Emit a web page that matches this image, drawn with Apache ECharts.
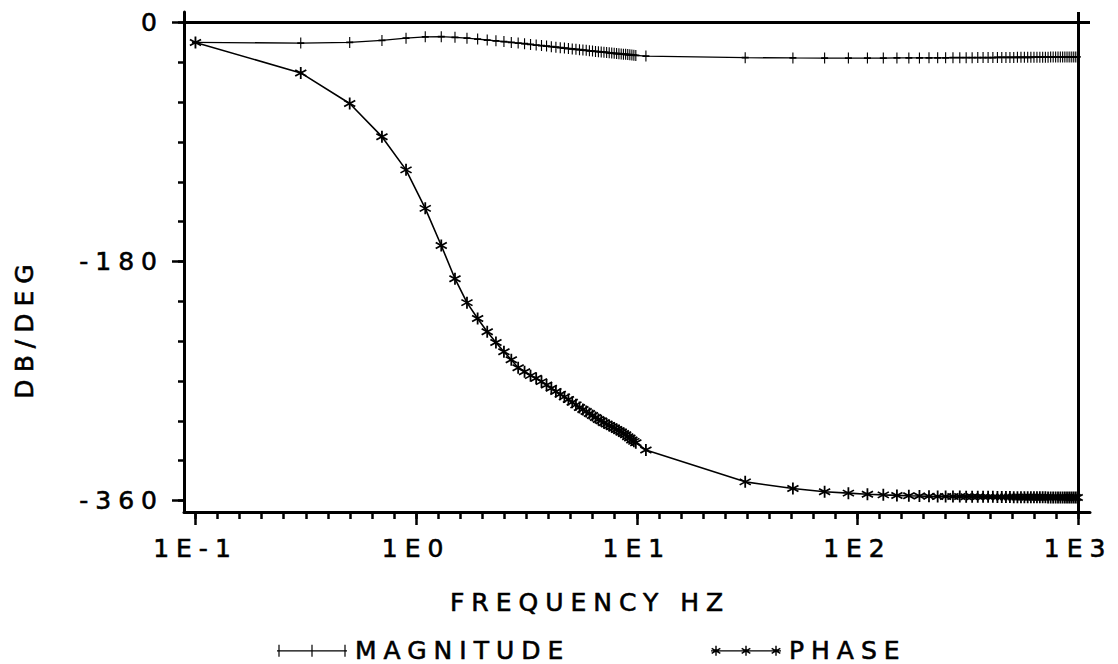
<!DOCTYPE html>
<html>
<head>
<meta charset="utf-8">
<script src="https://cdn.jsdelivr.net/npm/echarts@6/dist/echarts.min.js"></script>
<style>
  html, body { margin: 0; padding: 0; background: #fff; }
  #chart { width: 1118px; height: 664px; }
  /* plotter lettering is widely spaced */
  #chart text { letter-spacing: 7px; }
</style>
</head>
<body>
<div id="chart"></div>
<script>
// sweep frequencies (Hz)
const freqs = [
  0.1, 0.3, 0.5, 0.7, 0.9, 1.1, 1.3, 1.5, 1.7, 1.9,
  2.1, 2.3, 2.5, 2.7, 2.9, 3.1, 3.3, 3.5, 3.7, 3.9,
  4.1, 4.3, 4.5, 4.7, 4.9, 5.1, 5.3, 5.5, 5.7, 5.9,
  6.1, 6.3, 6.5, 6.7, 6.9, 7.1, 7.3, 7.5, 7.7, 7.9,
  8.1, 8.3, 8.5, 8.7, 8.9, 9.1, 9.3, 9.5, 9.7, 9.9,
  11, 31, 51, 71, 91, 111, 131, 151, 171, 191,
  211, 231, 251, 271, 291, 311, 331, 351, 371, 391,
  411, 431, 451, 471, 491, 511, 531, 551, 571, 591,
  611, 631, 651, 671, 691, 711, 731, 751, 771, 791,
  811, 831, 851, 871, 891, 911, 931, 951, 971, 991
]

// magnitude, dB
const magnitude = [
  -15, -15.5, -15, -13.5, -11.8, -10.8, -10.7, -11.2, -11.8, -12.5,
  -13.2, -13.8, -14.4, -15, -15.5, -16, -16.5, -17, -17.4, -17.8,
  -18.2, -18.6, -19, -19.3, -19.6, -19.9, -20.2, -20.5, -20.8, -21,
  -21.3, -21.5, -21.8, -22, -22.2, -22.4, -22.6, -22.8, -23, -23.2,
  -23.4, -23.5, -23.7, -23.9, -24, -24.2, -24.3, -24.5, -24.6, -24.8,
  -25.3, -26.5, -26.7, -26.8, -26.8, -26.8, -26.8, -26.7, -26.7, -26.7,
  -26.6, -26.6, -26.6, -26.5, -26.5, -26.5, -26.5, -26.4, -26.4, -26.4,
  -26.4, -26.3, -26.3, -26.3, -26.3, -26.3, -26.2, -26.2, -26.2, -26.2,
  -26.2, -26.1, -26.1, -26.1, -26.1, -26.1, -26.1, -26, -26, -26,
  -26, -26, -26, -26, -26, -25.9, -25.9, -25.9, -25.9, -25.9
]

// phase, degrees
const phase = [
  -15, -38, -61, -86, -111, -140, -168, -193, -211, -223,
  -233, -241, -248, -254, -260, -263, -266, -268, -270.5, -273,
  -275.5, -278, -280, -282, -284, -286, -288, -290, -291.5, -293,
  -294.5, -296, -297.5, -299, -300, -301.5, -302.5, -303.5, -304.5, -305.5,
  -306.5, -307.5, -308.5, -309.5, -310.5, -312, -313, -314.5, -315.5, -316.5,
  -322, -346, -351, -353.5, -354.5, -355.3, -355.8, -356.2, -356.5, -356.7,
  -356.9, -357, -357, -357.1, -357.1, -357.2, -357.2, -357.2, -357.3, -357.3,
  -357.3, -357.4, -357.4, -357.4, -357.4, -357.5, -357.5, -357.5, -357.5, -357.5,
  -357.6, -357.6, -357.6, -357.6, -357.6, -357.6, -357.7, -357.7, -357.7, -357.7,
  -357.7, -357.7, -357.7, -357.8, -357.8, -357.8, -357.8, -357.8, -357.8, -357.8
]

// axis ticks: decades (log10 of Hz) and degrees
const decadeTicks = [-1, 0, 1, 2, 3]
const yMajorTicks = [0, -180, -360]
const yMinorTicks = [0, -30, -60, -90, -120, -150, -180, -210, -240, -270, -300, -330, -360]

const FONT = 'DejaVu Sans'
const INK = '#000'

// plotter draws 10 evenly spaced ticks per decade
const xMinorTicks = []
for (let k = 0; k <= 40; k++) xMinorTicks.push(-1 + k / 10)

// thin bar polygon, angle from vertical in degrees
function bar(cx, cy, r, w, deg) {
  const t = deg * Math.PI / 180
  const dx = Math.sin(t) * r, dy = -Math.cos(t) * r
  const nx = Math.cos(t) * w, ny = Math.sin(t) * w
  const p = [
    [cx + dx + nx, cy + dy + ny],
    [cx - dx + nx, cy - dy + ny],
    [cx - dx - nx, cy - dy - ny],
    [cx + dx - nx, cy + dy - ny]
  ].map((q) => q[0].toFixed(3) + ',' + q[1].toFixed(3))
  return 'M' + p.join(' L') + ' Z '
}
function star(cx, cy, r, w) {
  return bar(cx, cy, r, w, 0) + bar(cx, cy, r, w, 60) + bar(cx, cy, r, w, -60)
}
function plus(cx, cy, r, w) {
  return bar(cx, cy, r, w, 0) + bar(cx, cy, r, w, 90)
}

const starSymbol = 'path://' + star(0, 0, 1, 0.14)
const plusSymbol = 'path://' + plus(0, 0, 1, 0.16)

// legend icons: a line with three markers, 70 x 12 px, plus an empty point at x=73
// so the text sits a little further from the icon
const lineBar = 'M0,5.4 L70,5.4 L70,6.6 L0,6.6 Z '
const pad = 'M73,6 L73,6 Z'
const magIcon = 'path://' + lineBar + bar(2, 6, 6, 0.6, 0) + bar(35, 6, 6, 0.6, 0) + bar(68, 6, 6, 0.6, 0) + pad
const phaseIcon = 'path://' + lineBar + star(5, 6, 5, 0.7) + star(35, 6, 5, 0.7) + star(65, 6, 5, 0.7) + pad

const magData = freqs.map((f, i) => [Math.log10(f), magnitude[i]])
const phaseData = freqs.map((f, i) => [Math.log10(f), phase[i]])

const textStyle = {
  color: INK, fontFamily: FONT, fontSize: 25,
  textBorderColor: INK, textBorderWidth: 0.6
}
const xRange = { min: -1.052, max: 3.054 }
const yRange = { min: -368.7, max: 7.9 }
const hideLine = { show: false, onZero: false }
const inkLine = { show: true, onZero: false, lineStyle: { color: INK, width: 3 } }

const chart = echarts.init(document.getElementById('chart'), null, { renderer: 'svg' })
chart.setOption({
  animation: false,
  backgroundColor: '#fff',
  grid: { left: 184, right: 28, top: 12, bottom: 152, outerBoundsMode: 'none' },
  xAxis: [
    {
      type: 'value', position: 'bottom', ...xRange,
      axisLine: inkLine,
      axisTick: { show: true, customValues: xMinorTicks, length: 7, lineStyle: { color: INK, width: 2.5 } },
      axisLabel: { show: false },
      splitLine: { show: false }
    },
    {
      type: 'value', position: 'bottom', ...xRange,
      axisLine: hideLine,
      axisTick: { show: true, customValues: decadeTicks, length: 13, lineStyle: { color: INK, width: 2.5 } },
      axisLabel: {
        show: true, customValues: decadeTicks, margin: 24, ...textStyle,
        formatter: (v) => '1E' + v
      },
      splitLine: { show: false }
    }
  ],
  yAxis: [
    {
      type: 'value', position: 'left', ...yRange,
      axisLine: inkLine,
      axisTick: { show: true, customValues: yMinorTicks, length: 6, lineStyle: { color: INK, width: 2.5 } },
      axisLabel: { show: false },
      splitLine: { show: false }
    },
    {
      type: 'value', position: 'left', ...yRange,
      axisLine: hideLine,
      axisTick: { show: true, customValues: yMajorTicks, length: 12, lineStyle: { color: INK, width: 2.5 } },
      axisLabel: {
        show: true, customValues: yMajorTicks, margin: 20, ...textStyle,
        formatter: (v) => String(v)
      },
      splitLine: { show: false }
    }
  ],
  legend: [
    {
      left: 272, top: 633, itemWidth: 73, itemHeight: 12, itemGap: 0,
      textStyle,
      data: [{ name: 'MAGNITUDE', icon: magIcon }]
    },
    {
      left: 706, top: 633, itemWidth: 73, itemHeight: 12, itemGap: 0,
      textStyle,
      data: [{ name: 'PHASE', icon: phaseIcon }]
    }
  ],
  graphic: [
    {
      type: 'text', x: 590, y: 602,
      style: {
        text: 'FREQUENCY HZ', fill: INK, stroke: INK, lineWidth: 0.6,
        font: '25px "' + FONT + '"', textAlign: 'center', textVerticalAlign: 'middle'
      }
    },
    {
      type: 'text', x: 24, y: 328, rotation: Math.PI / 2,
      style: {
        text: 'DB/DEG', fill: INK, stroke: INK, lineWidth: 0.6,
        font: '25px "' + FONT + '"', textAlign: 'center', textVerticalAlign: 'middle'
      }
    }
  ],
  series: [
    {
      name: 'MAGNITUDE',
      type: 'line',
      xAxisIndex: 0, yAxisIndex: 0,
      data: magData,
      symbol: plusSymbol,
      symbolSize: [7, 11],
      showAllSymbol: true,
      itemStyle: { color: INK },
      lineStyle: { color: INK, width: 1.3 },
      z: 3
    },
    {
      name: 'PHASE',
      type: 'line',
      xAxisIndex: 0, yAxisIndex: 0,
      data: phaseData,
      symbol: starSymbol,
      symbolSize: [12, 12],
      showAllSymbol: true,
      itemStyle: { color: INK },
      lineStyle: { color: INK, width: 1.6 },
      z: 3,
      markLine: {
        silent: true,
        symbol: 'none',
        label: { show: false },
        lineStyle: { color: INK, width: 3, type: 'solid' },
        emphasis: { disabled: true },
        data: [{ yAxis: 0 }, { xAxis: 3 }]
      }
    }
  ]
})
</script>
</body>
</html>
